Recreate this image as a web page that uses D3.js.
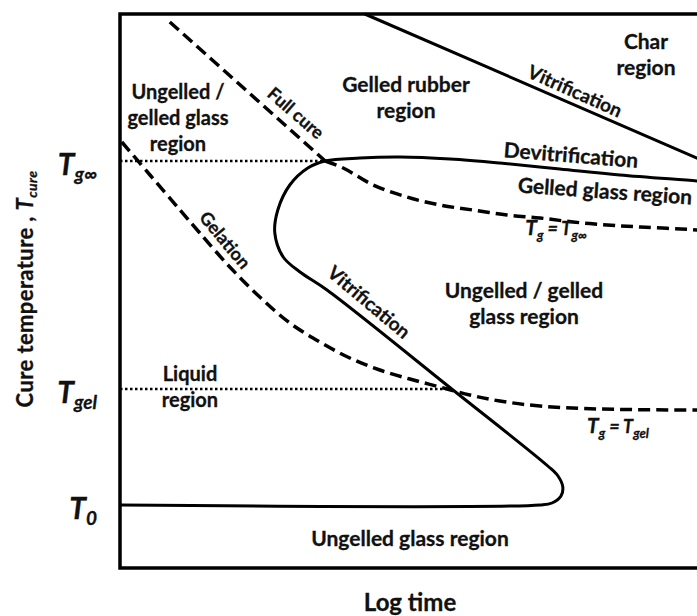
<!DOCTYPE html>
<html>
<head>
<meta charset="utf-8">
<script src="https://cdn.jsdelivr.net/npm/d3@7"></script>
<style>
  body { margin: 0; background: #fff; }
  svg text { font-family: Lato, "Open Sans", sans-serif; font-weight: bold; fill: #111;
             stroke: #111; stroke-width: 0.3px; }
</style>
</head>
<body>
<div id="vis"></div>
<script>
// frame
const FRAME_WIDTH = 697;
const FRAME_HEIGHT = 616;

// data (x = log time units, y = cure temperature units)
const tempLevels = [81.8, 36.2, 13];          // Tg∞, Tgel, T0
const tempSubs = ["g∞", "gel", "0"];

const fullCure = [[8.3, 109.6], [34.2, 81.8]];
const tgInfCurve = [[34.2, 81.8], [37.2, 80.4], [42.2, 77], [47.8, 74.6], [53.3, 73],
  [58.8, 72], [64.5, 71], [70, 70.4], [75.5, 69.6], [81.2, 69], [86.7, 68.6], [96.2, 68], [100, 67.6]];
const gelation = [[0.3, 85.6], [5, 79], [10, 72], [13.3, 67.4], [18.3, 60.6], [23.3, 54.6],
  [28.3, 49.4], [33.3, 45.6], [38.3, 42.4], [43.3, 40], [48.3, 38.2], [53.3, 36.6], [58.3, 35],
  [63.3, 33.8], [70, 32.8], [80, 32.2], [96.2, 32], [100, 32]];
const vitLoop = [[0, 13], [70, 13], [72, 13.4], [73.5, 14.8], [73.8, 16.6], [73, 18.8], [71.3, 20.8],
  [55.5, 36], [34.5, 56], [30, 59.6], [27.2, 62.6], [25.8, 67.4], [26.3, 72], [28.3, 77],
  [31.3, 80.4], [34.2, 81.8], [40, 82.4], [46.7, 82.6], [55, 82.2], [63.3, 81.4], [73.3, 80.2],
  [83.3, 79], [96.2, 77.8], [100, 77.4]];
const vitUpper = [[40.8, 111.2], [100, 80.4]];
const dotEnds = [34.2, 55.3];                 // where the Tg∞ / Tgel guides stop

const svg = d3.select("#vis").append("svg")
  .attr("width", FRAME_WIDTH)
  .attr("height", FRAME_HEIGHT);

const X_SCALE = d3.scaleLinear().domain([0, 100]).range([120, 720]);
const Y_SCALE = d3.scaleLinear().domain([0, 100]).range([570, 70]);

const line = d3.line().x(d => X_SCALE(d[0])).y(d => Y_SCALE(d[1]));
const smooth = d3.line().x(d => X_SCALE(d[0])).y(d => Y_SCALE(d[1]))
  .curve(d3.curveCatmullRom.alpha(0.5));

// box
svg.append("rect")
  .attr("x", 120).attr("y", 14)
  .attr("width", 600).attr("height", 554)
  .attr("fill", "none").attr("stroke", "#000").attr("stroke-width", 3.5);

// dotted guides
tempLevels.slice(0, 2).forEach((t, i) => {
  svg.append("path")
    .attr("d", line([[0, t], [dotEnds[i], t]]))
    .attr("fill", "none").attr("stroke", "#000")
    .attr("stroke-width", 2.5).attr("stroke-dasharray", "2.5,2.5");
});

// dashed curves
[fullCure, tgInfCurve, gelation].forEach(c => {
  svg.append("path")
    .attr("d", c.length > 2 ? smooth(c) : line(c))
    .attr("fill", "none").attr("stroke", "#000")
    .attr("stroke-width", 3.5).attr("stroke-dasharray", "12,6");
});

// solid curves
svg.append("path").attr("d", smooth(vitLoop))
  .attr("fill", "none").attr("stroke", "#000").attr("stroke-width", 3)
  .attr("stroke-linejoin", "round");
svg.append("path").attr("d", line(vitUpper))
  .attr("fill", "none").attr("stroke", "#000").attr("stroke-width", 3);

// temperature labels on the left
tempLevels.forEach((t, i) => {
  const txt = svg.append("text")
    .attr("x", 97).attr("y", Y_SCALE(t) + 14)
    .attr("text-anchor", "end")
    .style("font-style", "italic");
  txt.append("tspan").attr("font-size", 30).text("T");
  txt.append("tspan").attr("font-size", 19).attr("dy", 6).text(tempSubs[i]);
});

// region labels
const labels = [
  { t: ["Ungelled /", "gelled glass", "region"], x: 178, y: 99, s: 20 },
  { t: ["Gelled rubber", "region"], x: 406, y: 92, s: 21 },
  { t: ["Char", "region"], x: 646, y: 49, s: 21 },
  { t: ["Ungelled / gelled", "glass region"], x: 524, y: 298, s: 21 },
  { t: ["Liquid", "region"], x: 190, y: 381, s: 20 },
  { t: ["Ungelled glass region"], x: 410, y: 546, s: 21 }
];
labels.forEach(l => {
  l.t.forEach((s, i) => {
    svg.append("text").attr("x", l.x).attr("y", l.y + i * 26)
      .attr("text-anchor", "middle").attr("font-size", l.s).text(s);
  });
});

// labels along the curves
const curveLabels = [
  { t: "Full cure", x: 296, y: 113, r: 41, s: 18 },
  { t: "Vitrification", x: 575, y: 91, r: 24, s: 19 },
  { t: "Devitrification", x: 571, y: 155, r: 4.5, s: 21 },
  { t: "Gelled glass region", x: 605, y: 191, r: 4, s: 21 },
  { t: "Gelation", x: 225, y: 240, r: 50, s: 18 },
  { t: "Vitrification", x: 369, y: 302, r: 40, s: 19 }
];
curveLabels.forEach(l => {
  svg.append("g").attr("transform", `translate(${l.x},${l.y}) rotate(${l.r})`)
    .append("text").attr("y", l.s * 0.36)
    .attr("text-anchor", "middle").attr("font-size", l.s).text(l.t);
});

// Tg = ... labels
function tgLabel(x, y, sub) {
  const txt = svg.append("text").attr("x", x).attr("y", y)
    .attr("text-anchor", "middle").style("font-style", "italic");
  txt.append("tspan").attr("font-size", 21).text("T");
  txt.append("tspan").attr("font-size", 13).attr("dy", 5).text("g");
  txt.append("tspan").attr("font-size", 18).attr("dy", -5).text(" = T");
  txt.append("tspan").attr("font-size", 13).attr("dy", 5).text(sub);
}
tgLabel(556, 235, "g∞");
tgLabel(618, 433, "gel");

// axis titles
svg.append("text").attr("x", 410).attr("y", 611)
  .attr("text-anchor", "middle").attr("font-size", 24).text("Log time");

const yt = svg.append("text")
  .attr("transform", "translate(33,289) rotate(-90)")
  .attr("text-anchor", "middle").attr("font-size", 22)
  .style("letter-spacing", "0.4px");
yt.append("tspan").text("Cure temperature , ");
yt.append("tspan").style("font-style", "italic").text("T");
yt.append("tspan").style("font-style", "italic").attr("font-size", 14).attr("dy", 4).text("cure");
</script>
</body>
</html>
